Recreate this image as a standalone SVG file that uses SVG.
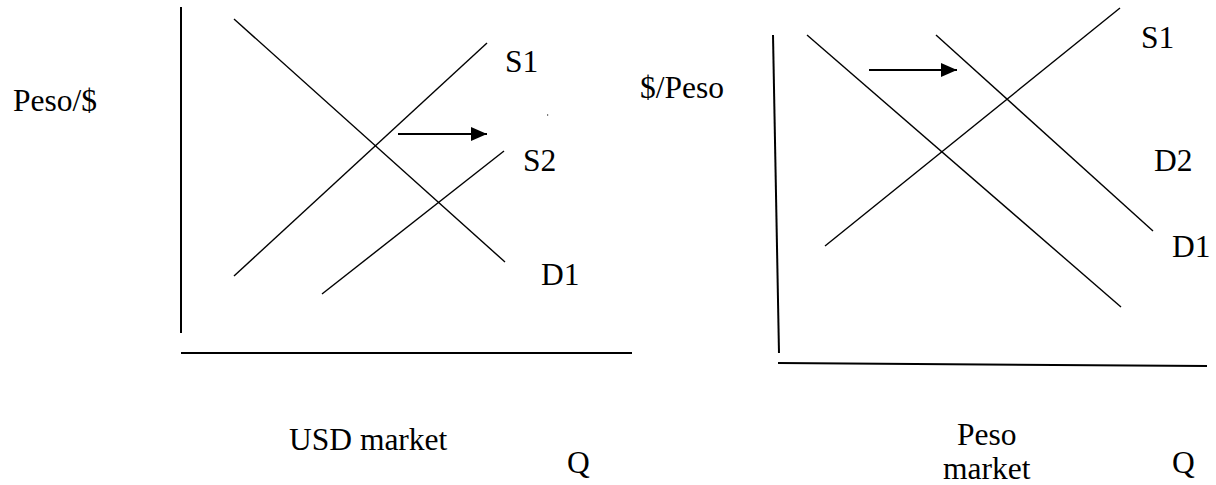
<svg xmlns="http://www.w3.org/2000/svg" width="1216" height="485" viewBox="0 0 1216 485">
<style>
.ax{stroke:#000;stroke-width:2;fill:none}
.ln{stroke:#000;stroke-width:1.4;fill:none}
.ar{stroke:#000;stroke-width:2;fill:none}
text{font-family:"Liberation Serif","Times New Roman",serif;font-size:31.5px;fill:#000}
</style>
<defs>
<marker id="ah" markerWidth="16" markerHeight="14" refX="16" refY="7" orient="auto" markerUnits="userSpaceOnUse" viewBox="0 0 16 14">
<path d="M0,0 L16,7 L0,14 Z" fill="#000"/>
</marker>
</defs>
<rect width="1216" height="485" fill="#fff"/>
<g id="usd-market">
<line class="ax" x1="181" y1="7" x2="181" y2="333"/>
<line class="ax" x1="181" y1="353" x2="632" y2="353"/>
<g id="usd-D1"><line class="ln" x1="234" y1="19" x2="505" y2="262"/><text x="541" y="285">D1</text></g>
<g id="usd-S1"><line class="ln" x1="234" y1="276" x2="487" y2="43"/><text x="505" y="72">S1</text></g>
<g id="usd-S2"><line class="ln" x1="322" y1="294" x2="504" y2="151"/><text x="523" y="171">S2</text></g>
<rect x="547" y="114.5" width="1.2" height="1" fill="#000"/>
<text x="13" y="111">Peso/$</text>
<text x="289" y="450">USD market</text>
<text x="567" y="473">Q</text>
</g>
<g id="peso-market">
<line class="ax" x1="773" y1="35" x2="779" y2="353"/>
<line class="ax" x1="778" y1="363" x2="1207" y2="366"/>
<g id="peso-D1"><line class="ln" x1="807" y1="35" x2="1121" y2="307"/><text x="1172" y="257">D1</text></g>
<g id="peso-D2"><line class="ln" x1="936" y1="35" x2="1153" y2="231"/><text x="1154" y="171">D2</text></g>
<g id="peso-S1"><line class="ln" x1="825" y1="246" x2="1120" y2="8"/><text x="1141" y="48">S1</text></g>
<text x="640" y="98">$/Peso</text>
<text x="957" y="445">Peso</text>
<text x="943" y="479">market</text>
<text x="1172" y="473">Q</text>
</g>
<g id="connectors">
<line class="ar" x1="398" y1="134" x2="487" y2="134" marker-end="url(#ah)"/>
<line class="ar" x1="869" y1="70" x2="957" y2="70" marker-end="url(#ah)"/>
</g>
</svg>
